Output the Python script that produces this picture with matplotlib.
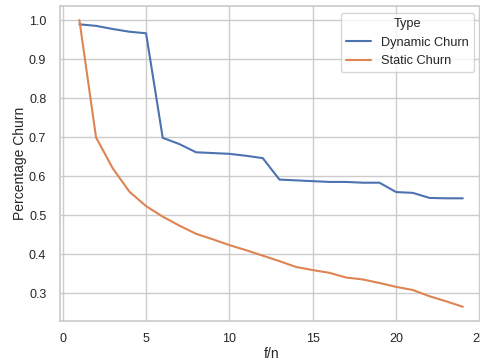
import matplotlib
matplotlib.use("Agg")
import matplotlib.pyplot as plt
import seaborn as sns

x = list(range(1, 25))
dynamic = [0.989, 0.985, 0.977, 0.970, 0.966, 0.698, 0.682, 0.661, 0.659, 0.657,
           0.652, 0.646, 0.591, 0.589, 0.587, 0.585, 0.585, 0.583, 0.583, 0.559,
           0.557, 0.544, 0.543, 0.543]
static = [1.0, 0.699, 0.620, 0.560, 0.523, 0.496, 0.473, 0.452, 0.438, 0.423,
          0.410, 0.396, 0.382, 0.367, 0.359, 0.352, 0.340, 0.335, 0.326, 0.316,
          0.308, 0.292, 0.279, 0.265]
series_names = ["Dynamic Churn", "Static Churn"]

sns.set_theme(style="whitegrid")
plt.rcParams['font.family'] = ['Liberation Sans', 'DejaVu Sans']

fig = plt.figure(figsize=(4.81, 3.60), dpi=100)
ax = fig.add_axes([60.2/481, (360-320.7)/360, (482-60.2)/481, (320.7-5.7)/360])
pal = sns.color_palette()
ax.plot(x, dynamic, color=pal[0], lw=1.5, label=series_names[0])
ax.plot(x, static, color=pal[1], lw=1.5, label=series_names[1])
ax.set_xlim(-0.15, 25.15)
ax.set_ylim(0.2293, 1.0367)
ax.set_xticks([0, 5, 10, 15, 20, 25])
ax.set_yticks([0.3, 0.4, 0.5, 0.6, 0.7, 0.8, 0.9, 1.0])
ax.tick_params(axis='x', labelsize=9, colors='#262626', pad=2.5)
ax.tick_params(axis='y', labelsize=9, colors='#262626', pad=4)
ax.set_xlabel("f/n", fontsize=10, color='#262626', labelpad=2)
ax.set_ylabel("Percentage Churn", fontsize=10, color='#262626', labelpad=1.5)
leg = ax.legend(title="Type", loc="upper right", fontsize=9.2, title_fontsize=9.2,
                borderaxespad=0.6)
fig.savefig("out.png", dpi=100)
